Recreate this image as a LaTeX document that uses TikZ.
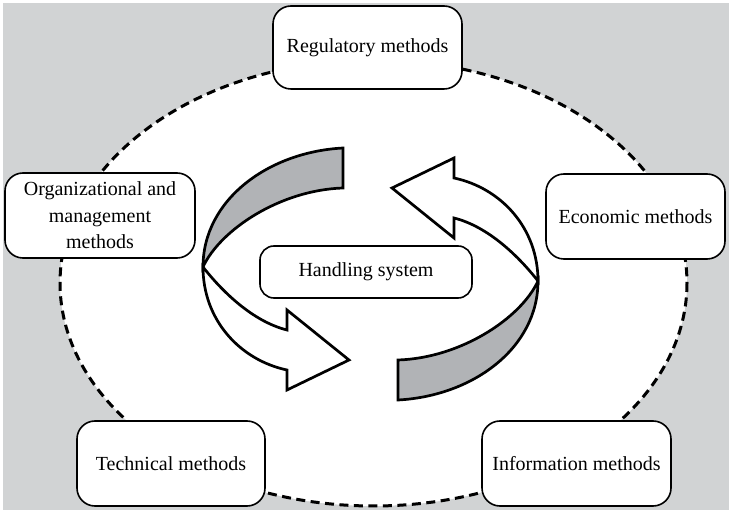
\documentclass[tikz,border=0pt]{standalone}
\usepackage{fontspec}
\setmainfont{Liberation Serif}
\definecolor{bggray}{RGB}{209,211,212}
\definecolor{ribbongray}{RGB}{177,179,182}
\tikzset{
  methodbox/.style={draw=black, line width=1.6pt, fill=white, rounded corners=18pt,
    inner sep=0pt, align=center, font=\fontsize{20}{26.5}\selectfont},
  ribbon/.style={draw=black, line width=2.7pt, fill=ribbongray, line join=miter},
  band/.style={draw=black, line width=2.7pt, fill=white, line join=miter},
  bound/.style={draw=black, line width=3pt, dash pattern=on 9pt off 5.5pt},
}
\begin{document}
\begin{tikzpicture}[x=1pt,y=-1pt]
\useasboundingbox (0,0) rectangle (729,510);
% background
\fill[bggray] (3,3) rectangle (729,510);
\fill[white] (373.5,283) ellipse [x radius=313.5, y radius=223];
\draw[bound] (373.5,283) ellipse [x radius=313.5, y radius=223];

% left twisted arrow
\draw[ribbon] (343,148) .. controls (268,152) and (203,200) .. (203,267)
  .. controls (220,230) and (280,190) .. (343,188) -- cycle;
\draw[band] (203,267) .. controls (225,295) and (255,322) .. (287,330)
  -- (287,310) -- (349,360) -- (287,390) -- (287,370)
  .. controls (240,360) and (203,320) .. (203,267) -- cycle;

% right twisted arrow (point-symmetric copy)
\begin{scope}[rotate around={180:(370.5,274)}]
\draw[ribbon] (343,148) .. controls (268,152) and (203,200) .. (203,267)
  .. controls (220,230) and (280,190) .. (343,188) -- cycle;
\draw[band] (203,267) .. controls (225,295) and (255,322) .. (287,330)
  -- (287,310) -- (349,360) -- (287,390) -- (287,370)
  .. controls (240,360) and (203,320) .. (203,267) -- cycle;
\end{scope}

% boxes
\node[methodbox, minimum width=189pt, minimum height=83pt] (reg) at (367.5,47.5) {Regulatory methods};
\node[methodbox, minimum width=190pt, minimum height=85pt] (org) at (100,215.5) {Organizational and\\management\\methods};
\node[methodbox, minimum width=179pt, minimum height=85pt] (eco) at (635.5,216.5) {Economic methods};
\node[methodbox, minimum width=188pt, minimum height=85pt] (tec) at (171,463.5) {Technical methods};
\node[methodbox, minimum width=189pt, minimum height=85pt] (inf) at (576.5,463.5) {Information methods};
\node[methodbox, rounded corners=14pt, minimum width=212pt, minimum height=52pt] (hs) at (366,272) {Handling system};
\end{tikzpicture}
\end{document}
